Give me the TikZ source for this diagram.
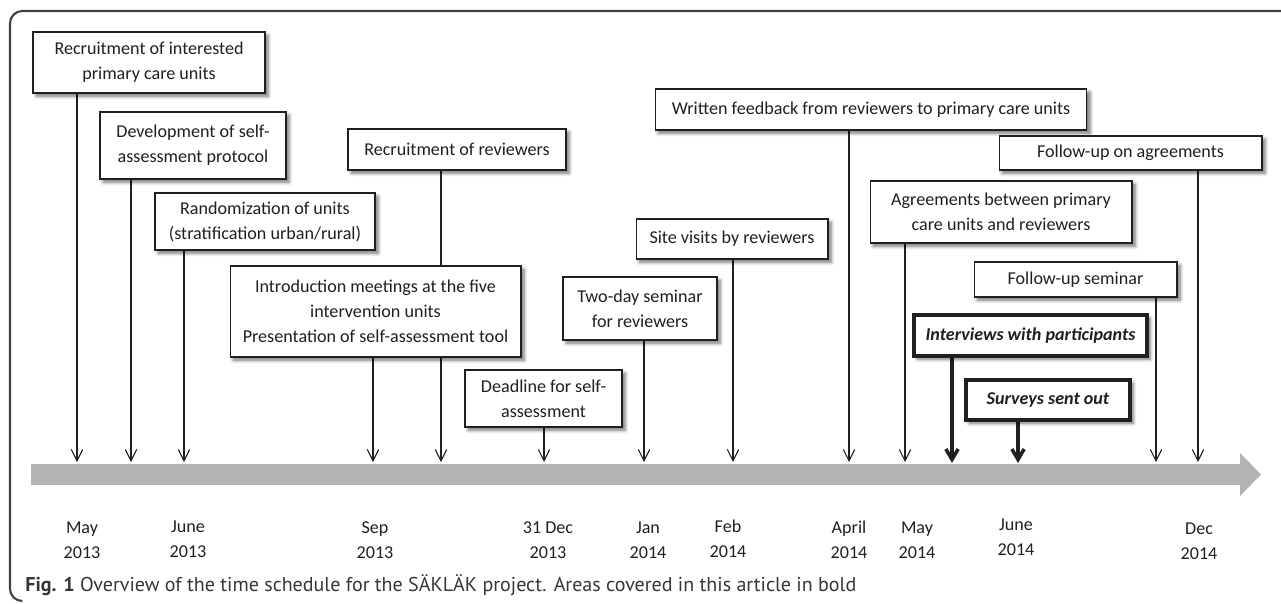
\documentclass[tikz,border=0pt]{standalone}
\usepackage{fontspec}
\setmainfont{Carlito}
\newfontfamily\capfont{PT Sans}
\usetikzlibrary{arrows.meta,shadows.blur,backgrounds}
\definecolor{barre}{RGB}{178,179,181}
\definecolor{texte}{RGB}{35,31,32}
\tikzset{
  etape/.style={draw=texte, line width=0.6pt, fill=white, align=center, inner sep=2pt,
    text=texte, font=\fontsize{10.3}{14.2}\selectfont,
    blur shadow={shadow xshift=1.8pt, shadow yshift=-1.8pt, shadow blur steps=6, shadow opacity=55}},
  etapegras/.style={etape, line width=2.2pt, font=\fontsize{10.3}{14.2}\selectfont\bfseries\itshape},
  fleche/.style={draw=texte, line width=0.6pt, -{Straight Barb[length=6.5pt,width=6.5pt]}},
  flechegras/.style={draw=texte, line width=2pt, -{Straight Barb[length=6pt,width=7pt]}},
  date/.style={align=center, text=texte, font=\fontsize{10.3}{14.2}\selectfont}
}
\begin{document}
\begin{tikzpicture}[x=0.02cm,y=-0.02cm]
  \useasboundingbox (0,0) rectangle (1281,603);
  % Cadre
  \draw[texte!85, line width=1.2pt, rounded corners=7pt] (1281,11) -- (10,11) -- (10,601) -- (22,601);

  % Barre du temps
  \fill[barre] (31,464) rectangle (1240,485);
  \fill[barre] (1240,453) -- (1261,474.5) -- (1240,496) -- cycle;

  % Etapes
  \node[etape, minimum width=4.64cm, minimum height=1.22cm] (rec) at (149,62.5) {Recruitment of interested\\primary care units};
  \node[etape, minimum width=3.72cm, minimum height=1.34cm] (dev) at (193,145.5) {Development of self-\\assessment protocol};
  \node[etape, minimum width=4.40cm, minimum height=1.14cm] (rand) at (265,221.5) {Randomization of units\\(stratification urban/rural)};
  \node[etape, minimum width=4.36cm, minimum height=0.82cm] (revs) at (457,149.5) {Recruitment of reviewers};
  \node[etape, minimum width=5.82cm, minimum height=1.82cm] (intro) at (375.5,311.5) {Introduction meetings at the five\\intervention units\\Presentation of self-assessment tool};
  \node[etape, minimum width=3.14cm, minimum height=1.14cm] (dead) at (543.5,398.5) {Deadline for self-\\assessment};
  \node[etape, minimum width=3.08cm, minimum height=1.26cm] (sem) at (640,308.5) {Two-day seminar\\for reviewers};
  \node[etape, minimum width=3.84cm, minimum height=0.80cm] (visit) at (732,239) {Site visits by reviewers};
  \node[etape, minimum width=8.64cm, minimum height=0.82cm] (feed) at (871,109.5) {Written feedback from reviewers to primary care units};
  \node[etape, minimum width=5.26cm, minimum height=0.68cm] (suivi) at (1130.5,153) {Follow-up on agreements};
  \node[etape, minimum width=5.24cm, minimum height=1.24cm] (accord) at (1001,212) {Agreements between primary\\care units and reviewers};
  \node[etape, minimum width=4.06cm, minimum height=0.70cm] (sem2) at (1075.5,279.5) {Follow-up seminar};
  \node[etapegras, minimum width=4.66cm, minimum height=0.82cm] (interv) at (1030.5,335.5) {Interviews with participants};
  \node[etapegras, minimum width=3.28cm, minimum height=0.80cm] (enq) at (1048,400) {Surveys sent out};

  % Points d'arrivee sur la barre
  \coordinate (t1) at (77,462);
  \coordinate (t2) at (131,462);
  \coordinate (t3) at (184,462);
  \coordinate (t4) at (373,462);
  \coordinate (t5) at (441,462);
  \coordinate (t6) at (544,462);
  \coordinate (t7) at (644,462);
  \coordinate (t8) at (733,462);
  \coordinate (t9) at (849,462);
  \coordinate (t10) at (905,462);
  \coordinate (t11) at (952,463);
  \coordinate (t12) at (1018,463);
  \coordinate (t13) at (1156,462);
  \coordinate (t14) at (1198,462);

  % Fleches
  \begin{scope}[on background layer]
    \draw[fleche] (rec.south -| t1) -- (t1);
    \draw[fleche] (dev.south -| t2) -- (t2);
    \draw[fleche] (rand.south -| t3) -- (t3);
    \draw[fleche] (intro.south -| t4) -- (t4);
    \draw[fleche] (revs.south -| t5) -- (t5);
    \draw[fleche] (dead.south -| t6) -- (t6);
    \draw[fleche] (sem.south -| t7) -- (t7);
    \draw[fleche] (visit.south -| t8) -- (t8);
    \draw[fleche] (feed.south -| t9) -- (t9);
    \draw[fleche] (accord.south -| t10) -- (t10);
    \draw[flechegras] (interv.south -| t11) -- (t11);
    \draw[flechegras] (enq.south -| t12) -- (t12);
    \draw[fleche] (sem2.south -| t13) -- (t13);
    \draw[fleche] (suivi.south -| t14) -- (t14);
  \end{scope}

  % Dates
  \node[date] (d1) at (82,540) {May\\2013};
  \node[date] (d2) at (188,539) {June\\2013};
  \node[date] (d3) at (375,540) {Sep\\2013};
  \node[date] (d4) at (548,540) {31 Dec\\2013};
  \node[date] (d5) at (648,540) {Jan\\2014};
  \node[date] (d6) at (728,539) {Feb\\2014};
  \node[date] (d7) at (849,540) {April\\2014};
  \node[date] (d8) at (917,540) {May\\2014};
  \node[date] (d9) at (1016,537) {June\\2014};
  \node[date] (d10) at (1199,541) {Dec\\2014};

  % Legende
  \node[anchor=west, inner sep=0pt, text=texte!90, font=\capfont\fontsize{11.4}{13}\selectfont] (leg) at (25,585)
    {\textbf{Fig. 1} Overview of the time schedule for the SÄKLÄK project. Areas covered in this article in bold};
\end{tikzpicture}
\end{document}
